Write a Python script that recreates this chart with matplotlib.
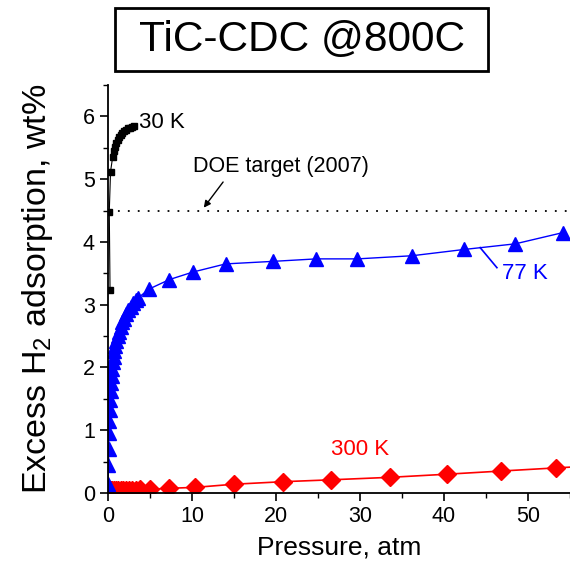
import matplotlib
matplotlib.use("Agg")
import matplotlib.pyplot as plt
from matplotlib.patches import Rectangle
from matplotlib.ticker import MultipleLocator

plt.rcParams['font.family'] = ['Liberation Sans', 'DejaVu Sans']
plt.rcParams['mathtext.fontset'] = 'custom'
plt.rcParams['mathtext.rm'] = 'Liberation Sans'

# 30 K isotherm
p30 = [0.24, 0.15, 0.3, 0.56, 0.7, 0.85, 1.0, 1.15, 1.3, 1.5, 1.7, 1.9, 2.1, 2.35, 2.6, 2.85, 3.05]
w30 = [3.24, 4.48, 5.12, 5.36, 5.45, 5.52, 5.58, 5.63, 5.67, 5.71, 5.74, 5.77, 5.79, 5.81, 5.82, 5.83, 5.84]

# 77 K isotherm
p77 = [0.02, 0.05, 0.08, 0.12, 0.16, 0.2, 0.25, 0.3, 0.36, 0.42, 0.5, 0.58, 0.67, 0.77, 0.88,
       1.0, 1.15, 1.3, 1.5, 1.7, 1.9, 2.15, 2.4, 2.7, 3.0, 3.3, 3.6,
       4.9, 7.3, 10.1, 14.0, 19.6, 24.8, 29.7, 36.2, 42.4, 48.5, 54.2]
w77 = [0.15, 0.45, 0.7, 0.95, 1.15, 1.32, 1.48, 1.62, 1.75, 1.87, 1.98, 2.08, 2.17, 2.26, 2.34,
       2.42, 2.5, 2.57, 2.65, 2.72, 2.78, 2.85, 2.91, 2.97, 3.02, 3.07, 3.11,
       3.25, 3.40, 3.52, 3.65, 3.69, 3.73, 3.73, 3.78, 3.88, 3.97, 4.15]

# 300 K isotherm
p300 = [0.1, 0.3, 0.5, 0.7, 0.9, 1.2, 1.5, 1.8, 2.1, 2.5, 2.9, 3.3, 3.8,
        5.0, 7.3, 10.4, 15.0, 20.8, 26.5, 33.6, 40.4, 46.8, 53.3, 59.0]
w300 = [0.04, 0.045, 0.045, 0.05, 0.05, 0.05, 0.05, 0.05, 0.055, 0.055, 0.055, 0.055, 0.06,
        0.06, 0.075, 0.09, 0.14, 0.18, 0.21, 0.25, 0.30, 0.35, 0.40, 0.44]

doe_target = 4.5

fig = plt.figure(figsize=(5.7, 5.74), dpi=100)
ax = fig.add_axes([0.1895, 0.1411, 0.8105, 0.7108])

ax.plot(p300, w300, color='red', lw=1.2, marker='D', ms=9.5, mec='red', mfc='red')
ax.plot(p77, w77, color='blue', lw=1.0, marker='^', ms=10.5, mec='blue', mfc='blue')
ax.plot(p30, w30, color='black', lw=0.8, marker='s', ms=5, mec='black', mfc='black')
ax.axhline(doe_target, color='black', lw=1.3, ls=(0, (1, 4.5)))

ax.set_xlim(0, 55)
ax.set_ylim(0, 6.5)
ax.xaxis.set_major_locator(MultipleLocator(10))
ax.xaxis.set_minor_locator(MultipleLocator(5))
ax.yaxis.set_major_locator(MultipleLocator(1))
ax.yaxis.set_minor_locator(MultipleLocator(0.5))
for s in ['top', 'right']:
    ax.spines[s].set_visible(False)
for s in ['left', 'bottom']:
    ax.spines[s].set_linewidth(1.3)
ax.tick_params(which='major', direction='out', length=6, width=1.2, labelsize=15.5)
ax.tick_params(which='minor', direction='out', length=3.5, width=1.0)

ax.set_xlabel('Pressure, atm', fontsize=19, labelpad=6)
ax.set_ylabel('Excess H$_2$ adsorption, wt%', fontsize=24.5, labelpad=20)

ax.text(3.7, 5.9, '30 K', fontsize=16, ha='left', va='center', color='black')
ax.text(26.5, 0.69, '300 K', fontsize=16, ha='left', va='center', color='red')
ax.text(46.9, 3.5, '77 K', fontsize=16, ha='left', va='center', color='blue')
ax.plot([44.3, 46.3], [3.91, 3.59], color='blue', lw=1.2)
ax.text(10.1, 5.2, 'DOE target (2007)', fontsize=15.5, ha='left', va='center')
ax.annotate('', xy=(11.2, 4.51), xytext=(13.9, 4.99),
            arrowprops=dict(arrowstyle='-|>', color='black', lw=1.0, mutation_scale=10))

fig.patches.append(Rectangle((0.2018, 0.8763), 0.654, 0.1098, transform=fig.transFigure,
                             fc='white', ec='black', lw=2))
fig.text(0.529, 0.931, 'TiC-CDC @800C', fontsize=30.5, ha='center', va='center')

fig.savefig('out.png', dpi=100)
